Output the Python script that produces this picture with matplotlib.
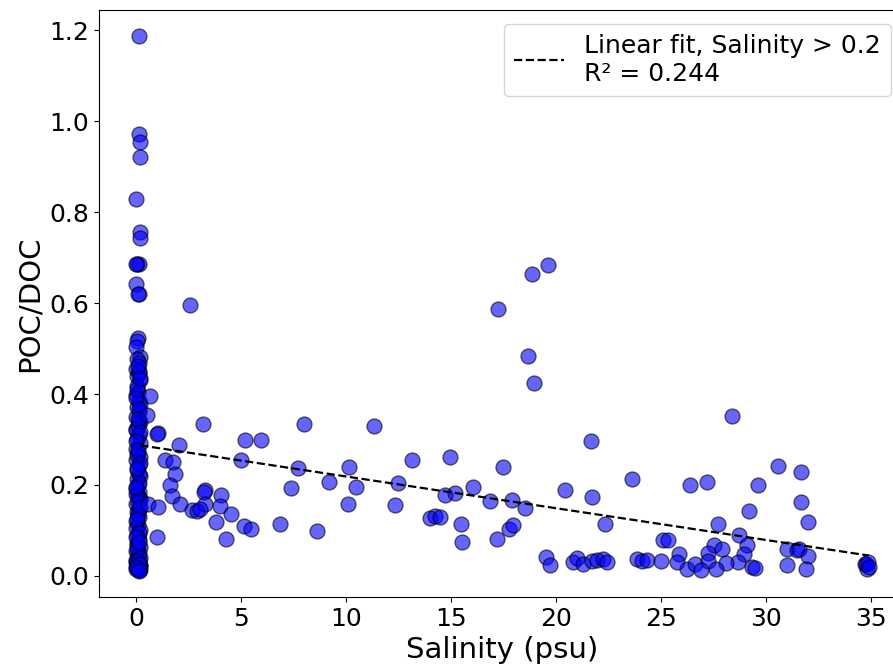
import matplotlib
matplotlib.use("Agg")
import matplotlib.pyplot as plt
import numpy as np

# Freshwater column (salinity ~0)
sal_fresh = [0.16, 0.14, 0.19, 0.18, -0.01, 0.18, 0.18, 0.03, 0.15, 0.0, 0.01, 0.14, 0.11,
             0.05, 0.02, 0.17,
             0.05, 0.15, 0.0, 0.12, 0.03, 0.18, 0.06, 0.1, 0.0, 0.16, 0.04, 0.12, 0.02, 0.19,
             0.08, 0.0, 0.14, 0.05, 0.17, 0.02, 0.1, 0.2, 0.0, 0.13, 0.06, 0.18, 0.03, 0.11,
             0.0, 0.15, 0.07, 0.19, 0.02, 0.12, 0.04, 0.16, 0.0, 0.09, 0.18, 0.03, 0.13, 0.06,
             0.2, 0.01, 0.1, 0.15, 0.0, 0.17, 0.05, 0.12, 0.02, 0.19, 0.08, 0.0, 0.14, 0.04,
             0.18, 0.1, 0.02, 0.16, 0.06, 0.0, 0.12, 0.19, 0.03, 0.14, 0.08, 0.01, 0.17, 0.05,
             0.09, 0.2, 0.01, 0.13, 0.07, 0.17, 0.0, 0.11, 0.19, 0.04, 0.15, 0.02, 0.1, 0.18,
             0.06, 0.14, 0.0, 0.12, 0.2, 0.03, 0.16, 0.08, 0.01, 0.13]
ratio_fresh = [1.187, 0.972, 0.954, 0.921, 0.829, 0.757, 0.743, 0.686, 0.687, 0.685, 0.641, 0.619, 0.524,
               0.516, 0.503, 0.482,
               0.478, 0.468, 0.455, 0.447, 0.44, 0.43, 0.418, 0.405, 0.398, 0.385, 0.372, 0.36, 0.35, 0.338,
               0.33, 0.322, 0.31, 0.3, 0.292, 0.28, 0.27, 0.262, 0.255, 0.243, 0.232, 0.22, 0.212, 0.2,
               0.192, 0.185, 0.176, 0.168, 0.158, 0.148, 0.14, 0.13, 0.12, 0.112, 0.1, 0.09, 0.08, 0.072,
               0.063, 0.055, 0.045, 0.038, 0.03, 0.024, 0.018, 0.013, 0.016, 0.021, 0.028, 0.035, 0.05, 0.068,
               0.17, 0.175, 0.18, 0.225, 0.265, 0.32, 0.34, 0.378, 0.41, 0.45, 0.135, 0.105, 0.012, 0.06,
               0.462, 0.436, 0.392, 0.366, 0.345, 0.316, 0.296, 0.276, 0.248, 0.238, 0.205, 0.196, 0.162,
               0.152, 0.125, 0.095, 0.085, 0.075, 0.04, 0.033, 0.026, 0.015, 0.02, 0.01]

# Brackish and marine samples
sal_mix = [0.11, 2.57, 0.67, 0.51, 1.06, 1.01, 2.06, 1.38, 1.75, 1.86, 1.62, 1.70, 0.59, 1.06, 2.10,
           2.65, 2.89, 0.98,
           3.21, 7.98, 11.32, 5.17, 5.97, 4.98, 7.73, 10.16, 13.16, 14.95, 7.37, 9.17, 10.49, 12.48,
           14.71, 10.08, 12.35, 14.00, 14.24, 6.86, 8.63, 3.30, 3.25, 4.03, 3.29, 4.00, 4.51, 3.81,
           5.16, 5.46, 4.29, 3.05,
           19.60, 18.84, 17.24, 18.67, 18.97, 21.67, 17.48, 23.62, 16.06, 20.41, 15.19, 16.86,
           17.89, 18.54, 21.70, 14.48, 15.49, 15.54, 17.17, 17.76, 17.97, 22.35, 19.52, 19.71,
           20.83, 20.99, 21.30, 21.70, 21.94, 22.25, 22.41, 23.84, 24.08, 24.35, 25.00,
           25.11, 25.35, 25.87, 25.78, 26.22, 26.38,
           28.40, 30.56, 31.65, 27.21, 29.63, 31.65, 29.17, 32.02, 27.73, 28.71, 29.08, 27.54,
           27.89, 27.25, 27.24, 28.97, 28.68, 28.10, 26.62, 26.89, 27.62, 29.32, 29.48, 30.98,
           31.46, 31.55, 32.02, 31.01, 31.90, 34.70, 34.80, 34.75, 34.85, 34.90]
ratio_mix = [0.619, 0.596, 0.396, 0.354, 0.315, 0.312, 0.287, 0.255, 0.251, 0.224, 0.200, 0.176, 0.157, 0.152, 0.157,
             0.145, 0.143, 0.086,
             0.335, 0.334, 0.330, 0.298, 0.299, 0.254, 0.237, 0.240, 0.254, 0.261, 0.193, 0.207, 0.196, 0.205,
             0.178, 0.159, 0.156, 0.128, 0.132, 0.113, 0.099, 0.188, 0.185, 0.178, 0.157, 0.154, 0.137, 0.119,
             0.110, 0.104, 0.082, 0.146,
             0.683, 0.663, 0.586, 0.483, 0.424, 0.297, 0.240, 0.213, 0.196, 0.189, 0.183, 0.165,
             0.166, 0.149, 0.174, 0.130, 0.113, 0.074, 0.082, 0.103, 0.112, 0.115, 0.042, 0.024,
             0.031, 0.040, 0.027, 0.033, 0.035, 0.036, 0.031, 0.036, 0.032, 0.035, 0.032,
             0.079, 0.079, 0.049, 0.031, 0.016, 0.200,
             0.351, 0.242, 0.229, 0.207, 0.199, 0.163, 0.143, 0.118, 0.115, 0.090, 0.068, 0.068,
             0.059, 0.051, 0.032, 0.047, 0.031, 0.029, 0.027, 0.013, 0.015, 0.020, 0.018, 0.060,
             0.057, 0.058, 0.043, 0.024, 0.014, 0.027, 0.016, 0.025, 0.030, 0.020]

# Linear fit for Salinity > 0.2
fit_intercept = 0.2885
fit_slope = -0.00699
fit_xmin, fit_xmax = 0.2, 34.9
r_squared = 0.244

salinity = np.array(sal_fresh + sal_mix)
ratio = np.array(ratio_fresh + ratio_mix)

fig = plt.figure(figsize=(8.93, 6.65), dpi=100)
ax = fig.add_axes([0.111, 0.102, 0.902, 0.883])

ax.scatter(salinity, ratio, s=115, c="blue", alpha=0.6, edgecolors="black", linewidths=1)

xf = np.linspace(fit_xmin, fit_xmax, 100)
ax.plot(xf, fit_intercept + fit_slope * xf, "k--", linewidth=1.6,
        label=f"Linear fit, Salinity > 0.2\nR\u00b2 = {r_squared:.3f}")

ax.set_xlim(-1.76, 36.6)
ax.set_ylim(-0.047, 1.245)
ax.set_xticks([0, 5, 10, 15, 20, 25, 30, 35])
ax.set_yticks([0.0, 0.2, 0.4, 0.6, 0.8, 1.0, 1.2])
ax.tick_params(labelsize=18)
ax.set_xlabel("Salinity (psu)", fontsize=21)
ax.set_ylabel("POC/DOC", fontsize=21)
ax.legend(loc="upper right", fontsize=18, borderaxespad=0.55)

fig.savefig("out.png", dpi=100)
